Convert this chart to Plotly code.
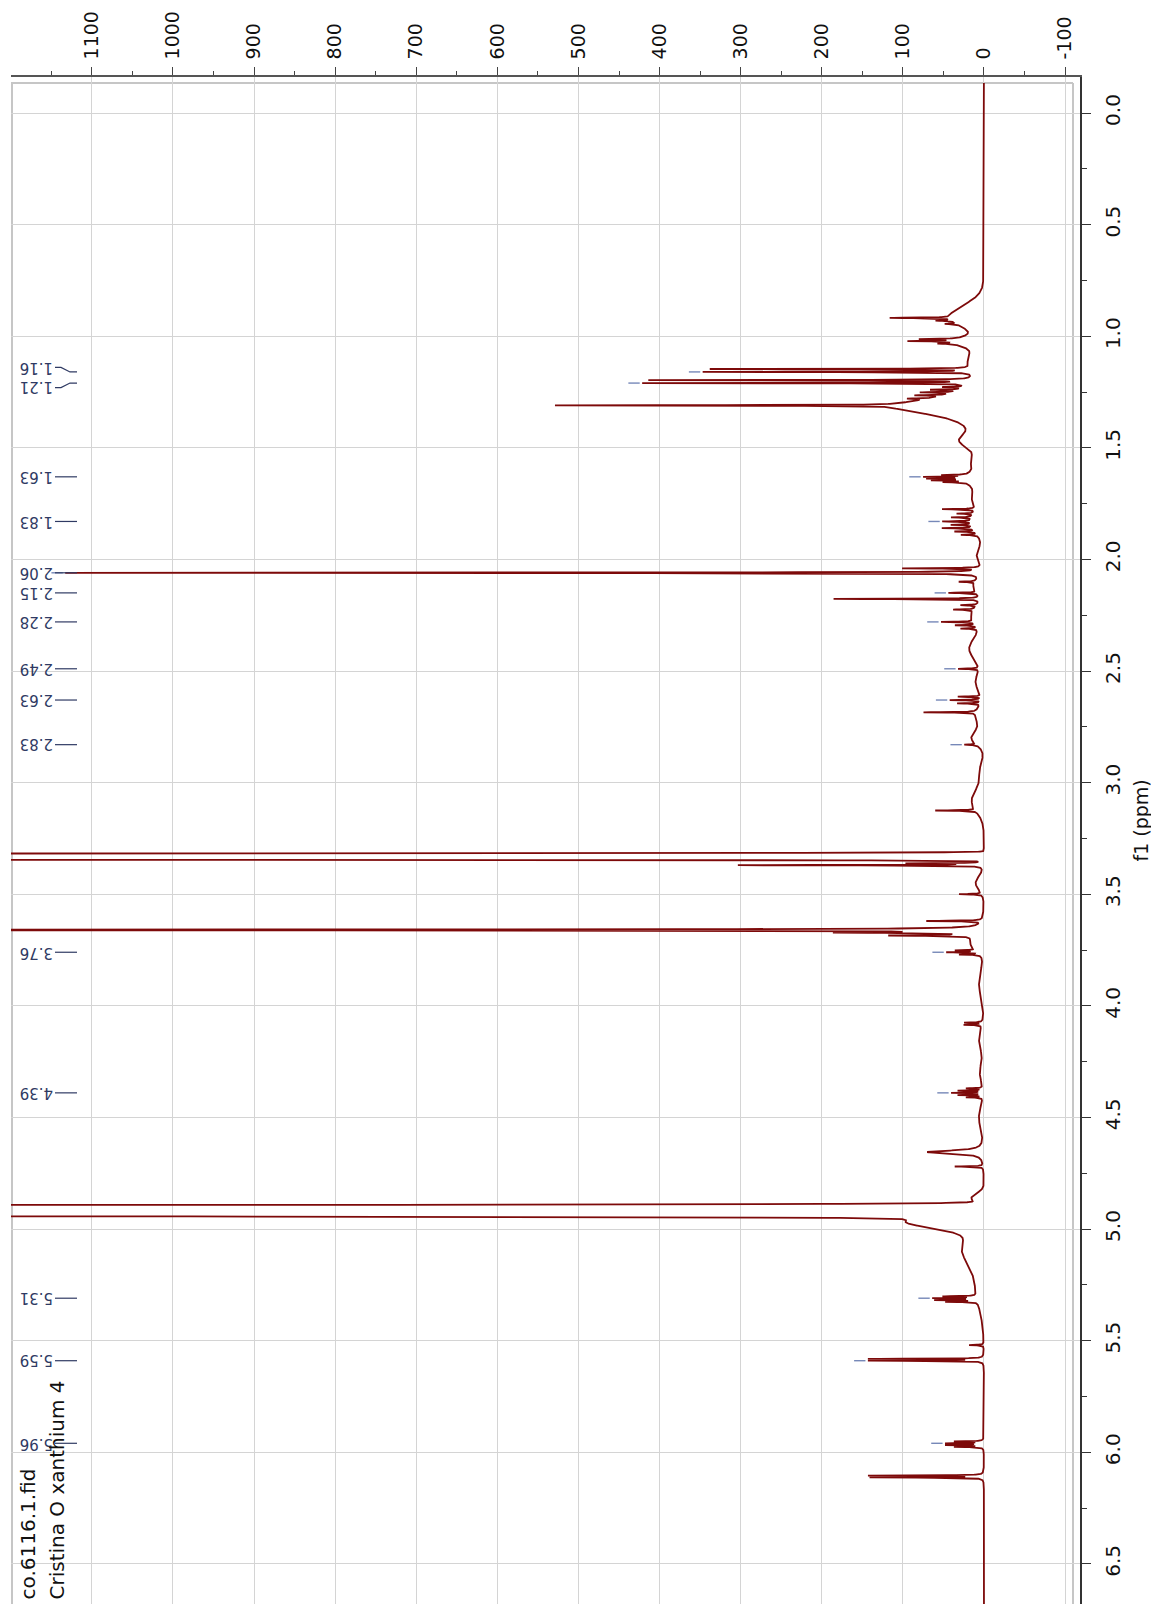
import numpy as np
import plotly.graph_objects as go

# ---------------------------------------------------------------------------
# 1H NMR spectrum (f1, ppm) of "Cristina O xanthium 4"
# Sharp resonances: Lorentzian lines -> centre (ppm), height, half-width (ppm)
# ---------------------------------------------------------------------------
LINE_PPM = [
    0.918, 0.930, 0.945, 1.013, 1.022, 1.033,
    1.147, 1.160, 1.197, 1.210, 1.228, 1.240, 1.252, 1.265, 1.280,
    1.310, 1.315,
    1.622, 1.630, 1.638, 1.646, 1.654,
    1.775, 1.795, 1.812, 1.830, 1.845, 1.860, 1.875, 1.890,
    2.040, 2.060, 2.100, 2.150, 2.177, 2.205, 2.225, 2.280, 2.295, 2.310,
    2.490, 2.615, 2.630, 2.645, 2.685, 2.830, 3.125,
    3.362, 3.370, 3.500, 3.620, 3.660, 3.672, 3.685,
    3.752, 3.760, 3.770, 4.075, 4.085,
    4.370, 4.380, 4.390, 4.400, 4.410, 4.655, 4.720,
    5.302, 5.310, 5.318, 5.326, 5.520, 5.582, 5.590,
    5.952, 5.960, 5.968, 5.976, 6.105, 6.113,
]
LINE_HEIGHT = [
    75, 20, 15, 45, 55, 20,
    320, 330, 395, 400, 25, 35, 40, 35, 25,
    420, 110,
    30, 50, 45, 40, 28,
    40, 20, 25, 35, 25, 38, 25, 20,
    95, 1130, 20, 35, 180, 20, 25, 40, 25, 20,
    25, 28, 38, 28, 65, 15, 50,
    90, 300, 28, 68, 3000, 150, 100,
    25, 38, 25, 22, 22,
    20, 30, 38, 30, 20, 70, 35,
    40, 52, 50, 38, 18, 140, 140,
    35, 45, 45, 35, 140, 138,
]
LINE_WIDTH = [
    0.0015, 0.0015, 0.0015, 0.0015, 0.0015, 0.0015,
    0.0012, 0.0012, 0.0012, 0.0012, 0.0015, 0.0015, 0.0015, 0.0015, 0.0015,
    0.0012, 0.045,
    0.0015, 0.0015, 0.0015, 0.0015, 0.0015,
    0.0015, 0.0015, 0.0015, 0.0015, 0.0015, 0.0015, 0.0015, 0.0015,
    0.0015, 0.0012, 0.0015, 0.0015, 0.0012, 0.0015, 0.0015, 0.0015, 0.0015, 0.0015,
    0.0015, 0.0015, 0.0015, 0.0015, 0.0015, 0.0015, 0.0015,
    0.0015, 0.0012, 0.0015, 0.0015, 0.0012, 0.002, 0.002,
    0.0015, 0.0015, 0.0015, 0.0015, 0.0015,
    0.0015, 0.0015, 0.0015, 0.0015, 0.0015, 0.008, 0.0015,
    0.0015, 0.0015, 0.0015, 0.0015, 0.0015, 0.0012, 0.0012,
    0.0015, 0.0015, 0.0015, 0.0015, 0.0012, 0.0012,
]

# Broad envelopes (baseline humps, solvent and HDO signals): Gaussian bands
BAND_PPM = [0.910, 1.025, 1.100, 1.470, 1.560, 1.640, 1.720, 1.830, 1.980,
            2.120, 2.250, 2.400, 2.550, 2.700, 2.800, 2.950, 3.080, 3.331,
            3.450, 3.720, 3.900, 4.150, 4.300, 4.500, 4.860, 4.918, 4.965,
            5.080, 5.250]
BAND_HEIGHT = [40, 30, 15, 22, 12, 20, 12, 15, 8,
               12, 15, 18, 10, 10, 15, 5, 15, 30000,
               10, 15, 6, 6, 5, 6, 15, 40000, 90,
               25, 10]
BAND_SIGMA = [0.05, 0.02, 0.04, 0.03, 0.03, 0.03, 0.03, 0.05, 0.03,
              0.03, 0.04, 0.05, 0.04, 0.04, 0.03, 0.04, 0.05, 0.0053,
              0.03, 0.03, 0.06, 0.05, 0.04, 0.05, 0.02, 0.0093, 0.03,
              0.07, 0.10]

# Picked peaks (labelled shifts)
PEAK_LABELS = [1.16, 1.21, 1.63, 1.83, 2.06, 2.15, 2.28, 2.49, 2.63, 2.83,
               3.76, 4.39, 5.31, 5.59, 5.96]

INTENSITY_TICKS = list(range(-100, 1101, 100))
PPM_TICKS = [0.0, 0.5, 1.0, 1.5, 2.0, 2.5, 3.0, 3.5, 4.0, 4.5, 5.0, 5.5, 6.0, 6.5]
TITLE_LINES = ["co.6116.1.fid", "Cristina O xanthium 4"]
AXIS_TITLE = "f1 (ppm)"

assert len(LINE_PPM) == len(LINE_HEIGHT) == len(LINE_WIDTH)
assert len(BAND_PPM) == len(BAND_HEIGHT) == len(BAND_SIGMA)

# ---------------------------------------------------------------------------
# Spectrum model
# ---------------------------------------------------------------------------
lp = np.array(LINE_PPM)
lh = np.array(LINE_HEIGHT, dtype=float)
lw = np.array(LINE_WIDTH)
bp = np.array(BAND_PPM)
bh = np.array(BAND_HEIGHT, dtype=float)
bs = np.array(BAND_SIGMA)


def spectrum(ppm):
    ppm = np.atleast_1d(np.asarray(ppm, dtype=float))[:, None]
    lor = lh / (1.0 + ((ppm - lp) / lw) ** 2)
    gau = bh * np.exp(-0.5 * ((ppm - bp) / bs) ** 2)
    return lor.sum(axis=1) + gau.sum(axis=1)


ppm_axis = np.union1d(np.arange(-0.134, 6.70, 0.0004), lp)
intensity = spectrum(ppm_axis)

# ---------------------------------------------------------------------------
# Page geometry (pixels) and axis ranges
# ---------------------------------------------------------------------------
W, H = 1151, 1604
PLOT_L, PLOT_R, PLOT_T, PLOT_B = 11, 1080, 77, 1604
X_RANGE = [1199.7, -118.4]      # intensity, reversed (large values to the left)
Y_RANGE = [6.680, -0.1613]      # ppm, 0 at the top


def xpaper(px):
    return (px - PLOT_L) / (PLOT_R - PLOT_L)


def ypaper(py):
    return (PLOT_B - py) / (PLOT_B - PLOT_T)


def xdata(px):
    return X_RANGE[0] + (px - PLOT_L) / (PLOT_R - PLOT_L) * (X_RANGE[1] - X_RANGE[0])


SPEC_COLOR = "#7d0a0a"
LABEL_COLOR = "#2f3a63"
PICK_COLOR = "#7688b8"

fig = go.Figure()

fig.add_trace(go.Scatter(
    x=intensity, y=ppm_axis, mode="lines",
    line=dict(color=SPEC_COLOR, width=1.8),
    hoverinfo="skip", showlegend=False,
))

# peak-pick marks at the tips of the labelled peaks
pick_x, pick_y = [], []
for p in PEAK_LABELS:
    tip = float(spectrum(p)[0])
    pick_x += [tip + 3, tip + 17, None]
    pick_y += [p, p, None]
fig.add_trace(go.Scatter(
    x=pick_x, y=pick_y, mode="lines",
    line=dict(color=PICK_COLOR, width=1.4),
    hoverinfo="skip", showlegend=False,
))

# label positions, spread apart where shifts crowd together
MIN_GAP = 0.09
label_pos = list(PEAK_LABELS)
for _ in range(60):
    for i in range(1, len(label_pos)):
        gap = label_pos[i] - label_pos[i - 1]
        if gap < MIN_GAP:
            d = (MIN_GAP - gap) / 2
            label_pos[i - 1] -= d
            label_pos[i] += d

# connectors from each label to its shift
con_x, con_y = [], []
for p, lpos in zip(PEAK_LABELS, label_pos):
    if abs(lpos - p) < 1e-6:
        con_x += [xdata(55), xdata(77), None]
        con_y += [p, p, None]
    else:
        con_x += [xdata(55), xdata(61), xdata(70), xdata(77), None]
        con_y += [lpos, lpos, p, p, None]
fig.add_trace(go.Scatter(
    x=con_x, y=con_y, mode="lines",
    line=dict(color=LABEL_COLOR, width=1.2),
    hoverinfo="skip", showlegend=False,
))

annotations = []
for p, lpos in zip(PEAK_LABELS, label_pos):
    annotations.append(dict(
        x=xpaper(37), xref="paper", y=lpos, yref="y",
        text=f"{p:.2f}", textangle=180, showarrow=False,
        xanchor="center", yanchor="middle",
        font=dict(family="DejaVu Sans", size=15, color=LABEL_COLOR),
    ))

# file name / sample name, written along the bottom-left edge
for line_text, px in zip(TITLE_LINES, [27, 56]):
    annotations.append(dict(
        x=xpaper(px), xref="paper", y=ypaper(1602), yref="paper",
        text=line_text, textangle=-90, showarrow=False,
        xanchor="center", yanchor="bottom",
        font=dict(family="DejaVu Sans", size=20, color="#111111"),
    ))

annotations.append(dict(
    x=xpaper(1141), xref="paper", y=3.17, yref="y",
    text=AXIS_TITLE, textangle=-90, showarrow=False,
    xanchor="center", yanchor="middle",
    font=dict(family="DejaVu Sans", size=19, color="#111111"),
))

FRAME = "#c6c6c6"
shapes = [
    # keep the gap between the axes and the grey frame clear of grid lines
    dict(type="rect", xref="paper", yref="paper", x0=0, x1=1,
         y0=ypaper(83), y1=1, fillcolor="white", line=dict(width=0), layer="between"),
    dict(type="rect", xref="paper", yref="paper", x0=xpaper(1074), x1=1,
         y0=0, y1=1, fillcolor="white", line=dict(width=0), layer="between"),
    # grey frame
    dict(type="line", xref="paper", yref="paper", x0=xpaper(11), x1=xpaper(1073),
         y0=ypaper(83), y1=ypaper(83), line=dict(color=FRAME, width=2), layer="between"),
    dict(type="line", xref="paper", yref="paper", x0=xpaper(12), x1=xpaper(12),
         y0=ypaper(83), y1=0, line=dict(color=FRAME, width=2), layer="between"),
    dict(type="line", xref="paper", yref="paper", x0=xpaper(1073), x1=xpaper(1073),
         y0=ypaper(83), y1=0, line=dict(color=FRAME, width=2), layer="between"),
]

fig.update_layout(
    width=W, height=H,
    margin=dict(l=PLOT_L, r=W - PLOT_R, t=PLOT_T, b=H - PLOT_B, pad=0),
    paper_bgcolor="white", plot_bgcolor="white",
    showlegend=False,
    annotations=annotations,
    shapes=shapes,
    xaxis=dict(
        range=X_RANGE, side="top",
        tickmode="array", tickvals=INTENSITY_TICKS,
        ticktext=[str(v) for v in INTENSITY_TICKS],
        tickangle=-90, ticks="outside", ticklen=8, tickwidth=1.3, tickcolor="#444444",
        ticklabelstandoff=4,
        minor=dict(tick0=0, dtick=50, ticks="outside", ticklen=4,
                   tickcolor="#444444", showgrid=False),
        showline=True, linecolor="#555555", linewidth=1.5,
        showgrid=True, gridcolor="#d4d4d4", gridwidth=1.2, zeroline=False,
        tickfont=dict(family="DejaVu Sans", size=19, color="#111111"),
    ),
    yaxis=dict(
        range=Y_RANGE, side="right",
        tickmode="array", tickvals=PPM_TICKS,
        ticktext=[f"{v:.1f}" for v in PPM_TICKS],
        tickangle=-90, ticks="outside", ticklen=9, tickwidth=1.3, tickcolor="#333333",
        ticklabelstandoff=5,
        minor=dict(tick0=0, dtick=0.25, ticks="outside", ticklen=5,
                   tickcolor="#333333", showgrid=False),
        showline=True, linecolor="#333333", linewidth=1.5,
        showgrid=True, gridcolor="#d4d4d4", gridwidth=1.2, zeroline=False,
        tickfont=dict(family="DejaVu Sans", size=20, color="#111111"),
    ),
)

fig.write_html("out.html")
